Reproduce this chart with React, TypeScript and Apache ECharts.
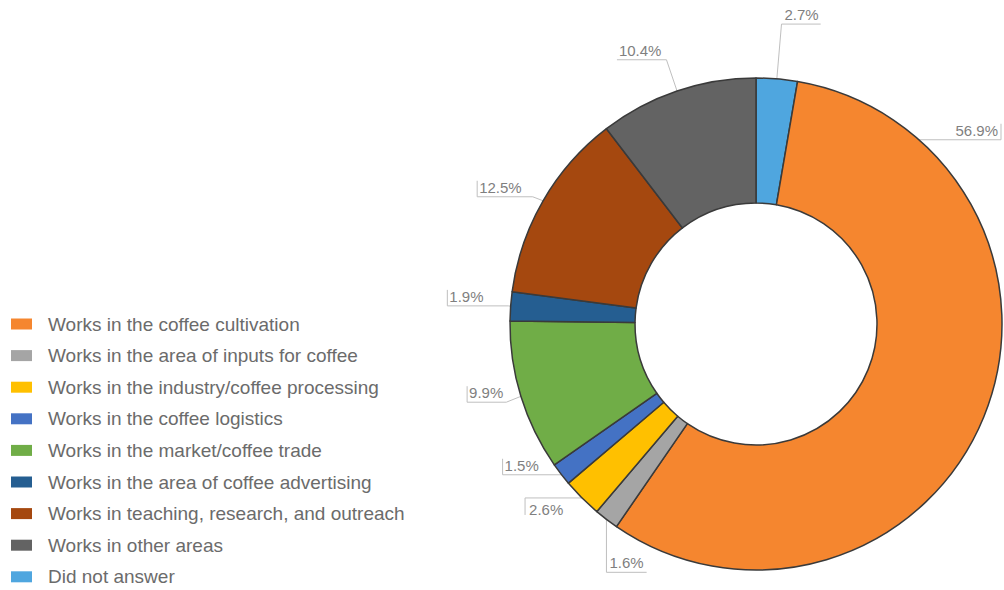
import React, { useEffect, useRef } from "react";
import * as echarts from "echarts";

// Legend order
const categories = [
  "Works in the coffee cultivation",
  "Works in the area of inputs for coffee",
  "Works in the industry/coffee processing",
  "Works in the coffee logistics",
  "Works in the market/coffee trade",
  "Works in the area of coffee advertising",
  "Works in teaching, research, and outreach",
  "Works in other areas",
  "Did not answer",
];
const shares = [56.9, 1.6, 2.6, 1.5, 9.9, 1.9, 12.5, 10.4, 2.7];
const colors = [
  "#F5862F",
  "#A5A5A5",
  "#FFC000",
  "#4472C4",
  "#70AD47",
  "#255E91",
  "#A5480F",
  "#636363",
  "#4FA6DF",
];
// clockwise drawing order from 12 o'clock (indices into categories)
const drawOrder = [8, 0, 1, 2, 3, 4, 5, 6, 7];
// leader-line styling per category
const leaderLen = [0, 0, 5, 1, 20, 5, 8, 33, 55];
const leaderLen2 = [0, 0, 15, 20, 0, 22, 8, 2, 0];
const withBar = [true, false, false, true, true, true, true, false, false];
// label placement mode per category: "ne" callout, "drop" below, "hook" left-below, "auto"
const labelMode = ["ne", "drop", "hook", "auto", "auto", "auto", "auto", "auto", "auto"];

const CX = 756;
const CY = 324;
const R_IN = 121;
const R_OUT = 246;
const FONT = "'Liberation Sans', Arial, Helvetica, sans-serif";

const total = shares.reduce((a, b) => a + b, 0);
function midAngleDeg(ci: number): number {
  let acc = 0;
  for (const k of drawOrder) {
    if (k === ci) return ((acc + shares[k] / 2) / total) * 360;
    acc += shares[k];
  }
  return 0;
}
function edgePoint(deg: number): [number, number] {
  const t = (deg * Math.PI) / 180;
  return [CX + R_OUT * Math.sin(t), CY - R_OUT * Math.cos(t)];
}

export default function App() {
  const ref = useRef<HTMLDivElement>(null);

  useEffect(() => {
    if (!ref.current) return;
    const chart = echarts.init(ref.current, null, { renderer: "svg" });

    const data = drawOrder.map((ci) => ({
      name: categories[ci],
      value: shares[ci],
      itemStyle: { color: colors[ci] },
      labelLine: { length: leaderLen[ci], length2: leaderLen2[ci] },
    }));

    const option: any = {
      animation: false,
      backgroundColor: "#ffffff",
      legend: {
        orient: "vertical",
        left: 11,
        top: 314,
        padding: 0,
        itemWidth: 21,
        itemHeight: 11,
        itemGap: 11.6,
        icon: "rect",
        selectedMode: false,
        data: categories,
        itemStyle: { borderWidth: 0 },
        textStyle: {
          fontFamily: FONT,
          fontSize: 19,
          lineHeight: 20,
          color: "#6b6b6b",
          padding: [0, 0, 0, 11],
        },
      },
      series: [
        {
          type: "pie",
          left: 0,
          top: 0,
          width: 1400,
          height: 590,
          center: [CX, CY],
          radius: [R_IN, R_OUT],
          startAngle: 90,
          clockwise: true,
          avoidLabelOverlap: true,
          itemStyle: { borderColor: "#3a3a3a", borderWidth: 1.5 },
          emphasis: { disabled: true },
          label: {
            show: true,
            formatter: "{c}%",
            fontFamily: FONT,
            fontSize: 15,
            lineHeight: 17,
            color: "#7f7f7f",
            distanceToLabelLine: 3,
          },
          labelLine: {
            show: true,
            lineStyle: { color: "#bfbfbf", width: 1 },
          },
          labelLayout: (params: any) => {
            const ci = drawOrder[params.dataIndex];
            const rect = params.labelRect;
            const h = rect.height;
            const w = rect.width;
            const mode = labelMode[ci];
            if (mode === "ne") {
              const [ax, ay] = edgePoint(41.5);
              const xEnd = ax + 82;
              return {
                x: xEnd - 3,
                y: ay - 1,
                align: "right",
                verticalAlign: "bottom",
                labelLinePoints: [
                  [ax - 12, ay],
                  [xEnd, ay],
                  [xEnd, ay - h + 1],
                ],
              };
            }
            if (mode === "drop") {
              const [ax, ay] = edgePoint(midAngleDeg(ci));
              const yLine = ay + 53;
              return {
                x: ax + 3,
                y: yLine - 1,
                align: "left",
                verticalAlign: "bottom",
                labelLinePoints: [
                  [ax, ay - 3],
                  [ax, yLine],
                  [ax + w + 6, yLine],
                ],
              };
            }
            if (mode === "hook") {
              const [ax, ay] = edgePoint(midAngleDeg(ci));
              const xl = ax - 57;
              return {
                x: xl + 4,
                y: ay + 3,
                align: "left",
                verticalAlign: "top",
                labelLinePoints: [
                  [ax + 8, ay],
                  [xl, ay],
                  [xl, ay + 17],
                ],
              };
            }
            const pts = params.labelLinePoints;
            if (!pts) return {};
            const isLeft = rect.x + w / 2 < CX;
            const y = pts[2][1];
            const xEnd = isLeft ? rect.x - 2 : rect.x + w + 2;
            const np: number[][] = [pts[0], pts[1], [xEnd, y]];
            if (withBar[ci]) np.push([xEnd, y - h + 1]);
            return { dy: -h / 2 - 1, labelLinePoints: np };
          },
          data,
        },
      ],
    };

    chart.setOption(option);
    return () => chart.dispose();
  }, []);

  return (
    <div
      ref={ref}
      style={{ position: "fixed", left: 0, top: 0, width: 1004, height: 590 }}
    />
  );
}
